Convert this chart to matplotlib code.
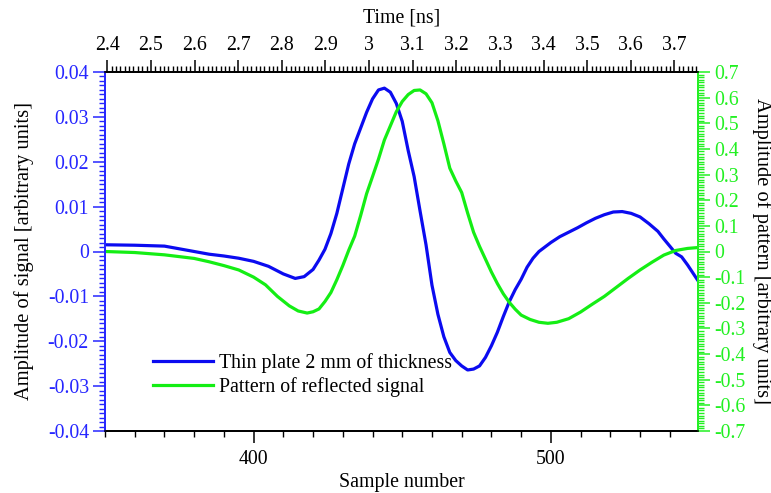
import matplotlib
matplotlib.use("Agg")
import matplotlib.pyplot as plt
from matplotlib.ticker import MultipleLocator, FuncFormatter

plt.rcParams['font.family'] = ['Liberation Serif', 'DejaVu Serif']

# ---- data ----
blue_x = [350, 360, 370, 380, 385, 390, 395, 400, 405, 410, 414, 417, 420, 422, 424, 426, 428,
          430, 432, 434, 436, 438, 440, 442, 444, 446, 448, 450, 452, 454, 456, 458, 460, 462,
          464, 466, 468, 470, 472, 474, 476, 478, 480, 482, 484, 486, 488, 490, 492, 494, 496,
          498, 500, 503, 506, 509, 512, 515, 518, 521, 524, 527, 530, 533, 536, 538, 540, 542,
          544, 546, 548, 550]
blue_y = [0.0015, 0.0014, 0.0012, 0.0000, -0.0006, -0.0010, -0.0015, -0.0022, -0.0033, -0.0050,
          -0.0060, -0.0056, -0.0040, -0.0019, 0.0005, 0.0040, 0.0085, 0.0140, 0.0195, 0.0240,
          0.0275, 0.0310, 0.0340, 0.0360, 0.0364, 0.0355, 0.0330, 0.0290, 0.0225, 0.0167, 0.0090,
          0.0015, -0.0075, -0.0140, -0.0190, -0.0225, -0.0243, -0.0255, -0.0264, -0.0262,
          -0.0255, -0.0236, -0.0210, -0.0180, -0.0145, -0.0112, -0.0085, -0.0062, -0.0035,
          -0.0015, 0.0000, 0.0010, 0.0020, 0.0033, 0.0043, 0.0053, 0.0064, 0.0074, 0.0082,
          0.0088, 0.0089, 0.0085, 0.0077, 0.0062, 0.0045, 0.0028, 0.0012, -0.0004, -0.0012,
          -0.0030, -0.0050, -0.0070]

green_x = [350, 360, 370, 380, 385, 390, 395, 400, 404, 408, 412, 415, 418, 420, 422, 424, 426,
           428, 430, 432, 434, 436, 438, 440, 442, 444, 446, 448, 450, 452, 454, 456, 458, 460,
           462, 464, 466, 468, 470, 472, 474, 476, 478, 480, 482, 484, 486, 488, 490, 493, 496,
           499, 502, 506, 510, 514, 518, 522, 526, 530, 534, 538, 542, 546, 550]
green_y = [0.000, -0.004, -0.013, -0.027, -0.040, -0.055, -0.072, -0.100, -0.130, -0.175, -0.212,
           -0.232, -0.240, -0.235, -0.224, -0.195, -0.160, -0.110, -0.055, 0.005, 0.060, 0.140,
           0.225, 0.292, 0.360, 0.435, 0.490, 0.545, 0.585, 0.612, 0.628, 0.630, 0.615, 0.580,
           0.510, 0.420, 0.325, 0.275, 0.230, 0.150, 0.075, 0.020, -0.030, -0.080, -0.125,
           -0.165, -0.198, -0.225, -0.248, -0.265, -0.276, -0.280, -0.276, -0.262, -0.236,
           -0.205, -0.175, -0.140, -0.105, -0.072, -0.042, -0.014, 0.004, 0.012, 0.016]

blue_label = "Thin plate 2 mm of thickness"
green_label = "Pattern of reflected signal"

# ---- styling ----
BLUE_LINE = '#0b0bf0'
BLUE_TXT = '#2626ff'
GREEN_LINE = '#14ee14'
GREEN_TXT = '#22f022'
FS = 14.3
FSL = 14.8

fig = plt.figure(figsize=(7.71, 4.93), dpi=100)
ax = fig.add_axes([105/771, 62/493, 593/771, 359/493])

l1, = ax.plot(blue_x, blue_y, color=BLUE_LINE, lw=2.3, label=blue_label)
ax.set_xlim(350, 549.5)
ax.set_ylim(-0.04, 0.04)

ax2 = ax.twinx()
l2, = ax2.plot(green_x, green_y, color=GREEN_LINE, lw=2.3, label=green_label)
ax2.set_ylim(-0.7, 0.7)

ax3 = ax.twiny()
ax3.set_xlim(2.3947, 3.754)

fmt = FuncFormatter(lambda v, p: ('%g' % round(v, 6)).replace('\u2212', '-'))

# bottom axis
ax.xaxis.set_major_locator(MultipleLocator(100))
ax.xaxis.set_minor_locator(MultipleLocator(10))
ax.tick_params(axis='x', which='major', direction='out', length=8.6, width=1.1, labelsize=FS, pad=5)
ax.tick_params(axis='x', which='minor', direction='out', length=4.3, width=1.0)
ax.set_xlabel("Sample number", fontsize=FS, labelpad=3)

# left axis
ax.yaxis.set_major_locator(MultipleLocator(0.01))
ax.yaxis.set_minor_locator(MultipleLocator(0.001))
ax.yaxis.set_major_formatter(fmt)
ax.tick_params(axis='y', which='major', direction='out', length=8.6, width=1.1,
               color=BLUE_TXT, labelcolor=BLUE_TXT, labelsize=FS, pad=3)
ax.tick_params(axis='y', which='minor', direction='out', length=4.3, width=1.0, color=BLUE_TXT)
ax.set_ylabel("Amplitude of signal [arbitrary units]", fontsize=FSL, labelpad=10)

# right axis
ax2.yaxis.set_major_locator(MultipleLocator(0.1))
ax2.yaxis.set_minor_locator(MultipleLocator(0.01))
ax2.yaxis.set_major_formatter(fmt)
ax2.tick_params(axis='y', which='major', direction='out', length=8.6, width=1.1,
                color=GREEN_TXT, labelcolor=GREEN_TXT, labelsize=FS, pad=3)
ax2.tick_params(axis='y', which='minor', direction='out', length=4.3, width=1.0, color=GREEN_TXT)
ax2.set_ylabel("Amplitude of pattern [arbitrary units]", fontsize=FSL, rotation=-90, labelpad=19)

# top axis
ax3.xaxis.set_major_locator(MultipleLocator(0.1))
ax3.xaxis.set_minor_locator(MultipleLocator(0.01))
ax3.xaxis.set_major_formatter(fmt)
ax3.tick_params(axis='x', which='major', direction='out', length=8.6, width=1.1, labelsize=FS, pad=4)
ax3.tick_params(axis='x', which='minor', direction='out', length=4.3, width=1.0)
ax3.set_xlabel("Time [ns]", fontsize=FS, labelpad=9)

# spines
for a in (ax, ax2, ax3):
    a.spines['left'].set_color(BLUE_TXT)
    a.spines['right'].set_color(GREEN_TXT)
    a.spines['top'].set_color('black')
    a.spines['bottom'].set_color('black')
    for s in a.spines.values():
        s.set_linewidth(1.1)

leg = ax.legend(handles=[l1, l2], loc='lower left', bbox_to_anchor=(0.068, 0.072),
                frameon=False, fontsize=FS, handlelength=3.0, handletextpad=0.3,
                labelspacing=0.22, borderaxespad=0)

fig.savefig("out.png", dpi=100)
